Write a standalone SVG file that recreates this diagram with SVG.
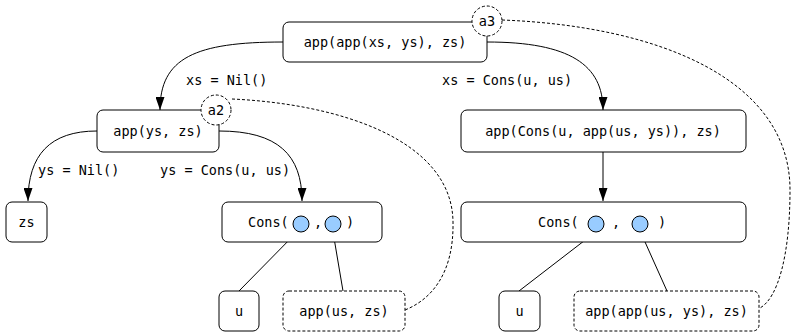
<svg xmlns="http://www.w3.org/2000/svg" width="792" height="332" viewBox="0 0 792 332">
<style>
text{font-family:"DejaVu Sans Mono","Liberation Mono",monospace;font-size:13.5px;fill:#000}
.n{fill:#fff;stroke:#000;stroke-width:1}
.d{fill:#fff;stroke:#000;stroke-width:1;stroke-dasharray:3,2}
.e{fill:none;stroke:#000;stroke-width:1}
.de{fill:none;stroke:#000;stroke-width:1;stroke-dasharray:3,2}
.b{fill:#99ccff;stroke:#000;stroke-width:1}
</style>
<defs>
<marker id="arr" viewBox="0 0 9 13" refX="4.5" refY="13" markerWidth="9" markerHeight="13" markerUnits="userSpaceOnUse" orient="0">
<path d="M0,0 L9,0 L4.5,13 z" fill="#000"/>
</marker>
</defs>
<g id="connectors">
<path class="de" d="M502,20 C660,26 790,80 790,190 C790,255 778,298 760,308"/>
<path class="de" d="M232,99 C340,104 452,140 453,222 C454,275 430,300 405,310"/>
<path class="e" d="M283,42 C195,42 160,58 160,110" marker-end="url(#arr)"/>
<path class="e" d="M487,42 C570,42 603,65 603,110" marker-end="url(#arr)"/>
<path class="e" d="M603,152 L603,201" marker-end="url(#arr)"/>
<path class="e" d="M97,131 C50,131 28,155 28,201" marker-end="url(#arr)"/>
<path class="e" d="M219,131 C278,131 302,155 302,201" marker-end="url(#arr)"/>
<line class="e" x1="298" y1="231" x2="239" y2="291"/>
<line class="e" x1="333" y1="232" x2="343" y2="291"/>
<line class="e" x1="593" y1="234" x2="519" y2="291"/>
<line class="e" x1="641" y1="233" x2="667" y2="291"/>
<text x="186" y="85">xs = Nil()</text>
<text x="442" y="85">xs = Cons(u, us)</text>
<text x="38" y="175">ys = Nil()</text>
<text x="160" y="175">ys = Cons(u, us)</text>
</g>
<g id="n_top">
<rect class="n" x="283" y="22" width="204" height="40" rx="6"/>
<text x="385" y="46.5" text-anchor="middle">app(app(xs, ys), zs)</text>
</g>
<g id="n_a3">
<circle class="d" cx="487" cy="21" r="15"/>
<text x="487" y="25.5" text-anchor="middle">a3</text>
</g>
<g id="n_appys">
<rect class="n" x="97" y="110" width="122" height="42" rx="6"/>
<text x="158" y="135.5" text-anchor="middle">app(ys, zs)</text>
</g>
<g id="n_a2">
<circle class="d" cx="216" cy="110" r="15"/>
<text x="216" y="114.5" text-anchor="middle">a2</text>
</g>
<g id="n_appcons">
<rect class="n" x="461" y="110" width="285" height="42" rx="6"/>
<text x="603" y="135.5" text-anchor="middle">app(Cons(u, app(us, ys)), zs)</text>
</g>
<g id="n_zs">
<rect class="n" x="6" y="202" width="41" height="40" rx="6"/>
<text x="26.5" y="226.5" text-anchor="middle">zs</text>
</g>
<g id="n_cons1">
<rect class="n" x="222" y="202" width="160" height="40" rx="6"/>
<text x="248" y="226.5">Cons(</text>
<circle class="b" cx="301" cy="224" r="8"/>
<text x="314" y="226.5">,</text>
<circle class="b" cx="333" cy="224" r="8"/>
<text x="346" y="226.5">)</text>
</g>
<g id="n_cons2">
<rect class="n" x="461" y="202" width="285" height="40" rx="6"/>
<text x="538" y="226.5">Cons(</text>
<circle class="b" cx="596" cy="224" r="8"/>
<text x="612" y="226.5">,</text>
<circle class="b" cx="640" cy="224" r="8"/>
<text x="658" y="226.5">)</text>
</g>
<g id="n_u1">
<rect class="n" x="219" y="291" width="40" height="40" rx="6"/>
<text x="239" y="315.5" text-anchor="middle">u</text>
</g>
<g id="n_appus">
<rect class="d" x="283" y="291" width="122" height="40" rx="6"/>
<text x="344" y="315.5" text-anchor="middle">app(us, zs)</text>
</g>
<g id="n_u2">
<rect class="n" x="499" y="291" width="41" height="40" rx="6"/>
<text x="519.5" y="315.5" text-anchor="middle">u</text>
</g>
<g id="n_appapp">
<rect class="d" x="574" y="291" width="185" height="40" rx="6"/>
<text x="666.5" y="315.5" text-anchor="middle">app(app(us, ys), zs)</text>
</g>
</svg>
